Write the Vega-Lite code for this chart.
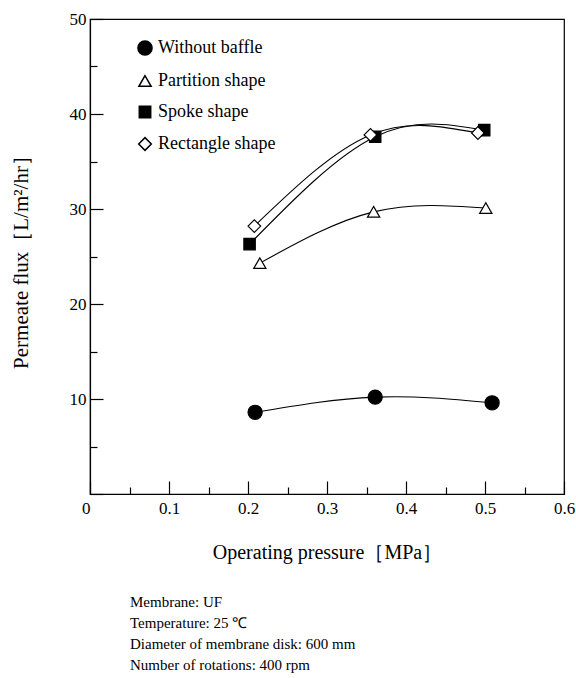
{
  "$schema": "https://vega.github.io/schema/vega-lite/v6.json",
  "width": 474,
  "height": 475,
  "autosize": "none",
  "padding": {"left": 90, "top": 19, "right": 12, "bottom": 184},
  "background": "white",
  "config": {
    "font": "Liberation Serif",
    "view": {"stroke": "black", "strokeWidth": 1.2},
    "axis": {
      "grid": false,
      "domainColor": "black",
      "domainWidth": 1.2,
      "tickColor": "black",
      "tickWidth": 1.2,
      "labelColor": "black",
      "labelFont": "Liberation Serif",
      "labelFontSize": 17,
      "titleFont": "Liberation Serif",
      "titleFontSize": 20,
      "titleFontWeight": "normal",
      "titleColor": "black",
      "labelOverlap": false,
      "labelBound": false,
      "labelFlush": false
    },
    "legend": {
      "labelFont": "Liberation Serif",
      "labelFontSize": 18,
      "labelColor": "black"
    }
  },
  "data": {
    "values": [
      {"series": "Without baffle", "pressure": 0.209, "flux": 8.6},
      {"series": "Without baffle", "pressure": 0.361, "flux": 10.2},
      {"series": "Without baffle", "pressure": 0.509, "flux": 9.6},
      {"series": "Partition shape", "pressure": 0.215, "flux": 24.3},
      {"series": "Partition shape", "pressure": 0.359, "flux": 29.7},
      {"series": "Partition shape", "pressure": 0.501, "flux": 30.1},
      {"series": "Spoke shape", "pressure": 0.202, "flux": 26.3},
      {"series": "Spoke shape", "pressure": 0.361, "flux": 37.6},
      {"series": "Spoke shape", "pressure": 0.499, "flux": 38.3},
      {"series": "Rectangle shape", "pressure": 0.208, "flux": 28.2},
      {"series": "Rectangle shape", "pressure": 0.355, "flux": 37.8},
      {"series": "Rectangle shape", "pressure": 0.491, "flux": 38.0}
    ]
  },
  "title": {
    "text": ["Membrane: UF", "Temperature: 25 ℃", "Diameter of membrane disk: 600 mm", "Number of rotations: 400 rpm"],
    "orient": "bottom",
    "anchor": "start",
    "frame": "group",
    "dx": 40,
    "offset": 33,
    "fontSize": 15,
    "fontWeight": "normal",
    "lineHeight": 21,
    "font": "Liberation Serif",
    "color": "black"
  },
  "encoding": {
    "x": {
      "field": "pressure",
      "type": "quantitative",
      "scale": {"domain": [0, 0.6], "nice": false, "zero": false},
      "axis": {
        "title": "Operating pressure［MPa］",
        "titlePadding": 20,
        "values": [0, 0.05, 0.1, 0.15, 0.2, 0.25, 0.3, 0.35, 0.4, 0.45, 0.5, 0.55, 0.6],
        "labelExpr": "round(datum.value*100) % 10 === 0 ? (datum.value === 0 ? '0' : format(datum.value, '.1f')) : ''",
        "labelAlign": {"condition": {"test": "datum.value === 0", "value": "right"}, "value": "center"},
        "tickSize": {"condition": {"test": "round(datum.value*100) % 10 === 0", "value": -13}, "value": -7},
        "labelPadding": 19
      }
    },
    "y": {
      "field": "flux",
      "type": "quantitative",
      "scale": {"domain": [0, 50], "nice": false, "zero": false},
      "axis": {
        "title": "Permeate flux［L/m²/hr］",
        "titleFontSize": 21,
        "titlePadding": 38,
        "values": [0, 5, 10, 15, 20, 25, 30, 35, 40, 45, 50],
        "labelExpr": "datum.value % 10 === 0 && datum.value > 0 ? format(datum.value, 'd') : ''",
        "tickSize": {"condition": {"test": "datum.value % 10 === 0", "value": -13}, "value": -7},
        "labelPadding": 17
      }
    }
  },
  "layer": [
    {
      "mark": {"type": "line", "interpolate": "natural", "color": "black", "strokeWidth": 1.1},
      "encoding": {"detail": {"field": "series"}}
    },
    {
      "mark": {"type": "point", "stroke": "black", "strokeWidth": 1.2, "opacity": 1},
      "encoding": {
        "stroke": {"value": "black"},
        "shape": {
          "field": "series",
          "type": "nominal",
          "scale": {"domain": ["Without baffle", "Partition shape", "Spoke shape", "Rectangle shape"], "range": ["circle", "triangle-up", "square", "diamond"]},
          "legend": {"title": null, "orient": "none", "legendX": 46, "legendY": 20, "rowPadding": 13, "labelOffset": 4, "encode": {"symbols": {"update": {"stroke": {"value": "black"}, "strokeWidth": {"value": 1.2}}}}}
        },
        "fill": {
          "field": "series",
          "type": "nominal",
          "scale": {"domain": ["Without baffle", "Partition shape", "Spoke shape", "Rectangle shape"], "range": ["black", "white", "black", "white"]},
          "legend": {"title": null, "orient": "none", "legendX": 46, "legendY": 20, "rowPadding": 13, "labelOffset": 4, "encode": {"symbols": {"update": {"stroke": {"value": "black"}, "strokeWidth": {"value": 1.2}}}}}
        },
        "size": {
          "field": "series",
          "type": "nominal",
          "scale": {"type": "ordinal", "domain": ["Without baffle", "Partition shape", "Spoke shape", "Rectangle shape"], "range": [200, 150, 130, 160]},
          "legend": {"title": null, "orient": "none", "legendX": 46, "legendY": 20, "rowPadding": 13, "labelOffset": 4, "encode": {"symbols": {"update": {"stroke": {"value": "black"}, "strokeWidth": {"value": 1.2}}}}}
        }
      }
    }
  ]
}
